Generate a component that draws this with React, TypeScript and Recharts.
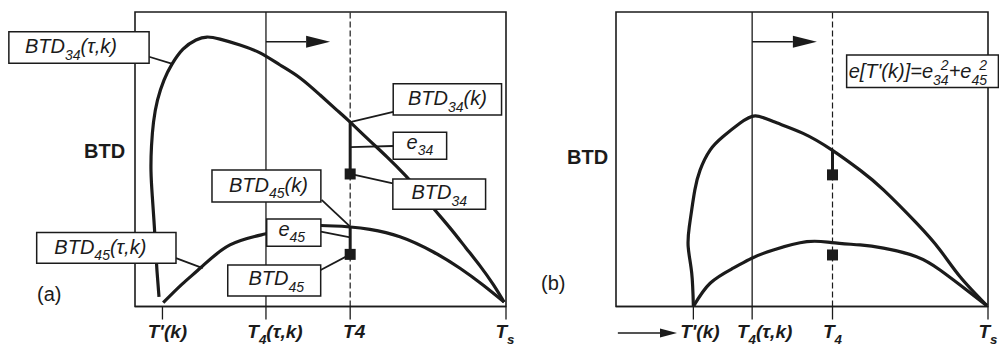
import React from 'react';
import { ComposedChart, Line, Scatter, XAxis, YAxis, ReferenceArea, ReferenceLine } from 'recharts';

const INK = '#1b1b1b';
const FONT = '"Liberation Sans", Arial, Helvetica, sans-serif';

// x = position on the T axis (0 at left frame, 100 at Ts), y = BTD (0..100)

// ---- panel (a) ----
const btd34TauA = [
  { x: 6.47, y: 3.3 }, { x: 5.93, y: 12.05 }, { x: 5.53, y: 20.5 }, { x: 5.12, y: 29.0 },
  { x: 4.66, y: 37.5 }, { x: 4.31, y: 46.0 }, { x: 4.45, y: 54.5 }, { x: 4.99, y: 62.6 },
  { x: 6.06, y: 70.1 }, { x: 7.82, y: 76.9 }, { x: 9.97, y: 82.3 }, { x: 12.94, y: 87.4 },
  { x: 16.44, y: 90.5 }, { x: 19.41, y: 91.5 }, { x: 22.91, y: 90.8 }, { x: 28.3, y: 88.8 },
  { x: 33.7, y: 86.1 }, { x: 39.1, y: 82.0 }, { x: 44.5, y: 77.6 }, { x: 49.9, y: 71.8 },
  { x: 54.4, y: 66.7 }, { x: 58.0, y: 62.6 }, { x: 63.1, y: 56.5 }, { x: 67.9, y: 50.8 },
  { x: 72.8, y: 44.6 }, { x: 76.8, y: 38.9 }, { x: 80.6, y: 33.1 }, { x: 84.9, y: 26.7 },
  { x: 89.2, y: 19.9 }, { x: 93.0, y: 13.8 }, { x: 96.5, y: 7.6 }, { x: 99.5, y: 1.5 },
];
const btd45TauA = [
  { x: 7.6, y: 1.3 }, { x: 12.7, y: 7.6 }, { x: 18.0, y: 13.5 }, { x: 25.6, y: 20.9 },
  { x: 35.0, y: 24.6 }, { x: 42.6, y: 26.8 }, { x: 50.1, y: 27.5 }, { x: 58.0, y: 27.0 },
  { x: 63.3, y: 26.2 }, { x: 71.4, y: 23.7 }, { x: 80.3, y: 18.6 }, { x: 87.6, y: 13.0 },
  { x: 93.8, y: 7.3 }, { x: 99.5, y: 1.5 },
];
const ticksA = [7.4, 35.3, 58, 100];
const tickLabelsA = ["T'(k)", 'T_{4}(τ,k)', 'T4', 'T_{s}'];
const t4TauA = 35.3;
const t4A = 58;
const measuredA = [45.0, 17.7]; // BTD34, BTD45 at T4
const modelA = [62.6, 27.0]; // BTD34(k), BTD45(k)

// ---- panel (b) ----
const btd34TauB = [
  { x: 20.8, y: 0 }, { x: 20.35, y: 11.4 }, { x: 19.4, y: 20.3 }, { x: 19.7, y: 27.1 },
  { x: 20.35, y: 32.8 }, { x: 21.2, y: 39.6 }, { x: 22.6, y: 46.3 }, { x: 25.3, y: 53.1 },
  { x: 28.8, y: 57.7 }, { x: 33.3, y: 62.2 }, { x: 37.4, y: 64.7 }, { x: 42.3, y: 62.8 },
  { x: 50.3, y: 58.8 }, { x: 58.1, y: 53.1 }, { x: 65.6, y: 46.3 }, { x: 71.9, y: 39.6 },
  { x: 80.8, y: 28.3 }, { x: 87.1, y: 19.2 }, { x: 92.5, y: 10.1 }, { x: 99.7, y: 0.3 },
];
const btd45TauB = [
  { x: 20.8, y: 0 }, { x: 25.3, y: 7.9 }, { x: 31.5, y: 13.0 }, { x: 36.5, y: 16.4 },
  { x: 42.3, y: 19.2 }, { x: 51.3, y: 22.0 }, { x: 58.0, y: 21.7 }, { x: 65.6, y: 20.9 },
  { x: 71.9, y: 19.8 }, { x: 80.8, y: 16.9 }, { x: 87.1, y: 12.4 }, { x: 92.5, y: 7.3 },
  { x: 99.7, y: 0.3 },
];
const ticksB = [20.8, 36.6, 58.2, 100];
const tickLabelsB = ["T'(k)", 'T_{4}(τ,k)', 'T_{4}', 'T_{s}'];
const t4TauB = 36.6;
const t4B = 58.2;
const measuredB = [44.7, 17.5];
const modelB = [53.1];

// callouts (data coordinates)
const boxesA = [
  { x1: -34.0, x2: 3.8, y1: 82.6, y2: 93.3, text: 'BTD_{34}(τ,k)', dy: 6, dx: -8 },
  { x1: -26.5, x2: 11.05, y1: 14.7, y2: 25.1, text: 'BTD_{45}(τ,k)', dy: 6, dx: -6 },
  { x1: 69.6, x2: 98.8, y1: 65.0, y2: 75.6, text: 'BTD_{34}(k)', dy: 6, dx: 0 },
  { x1: 69.6, x2: 84.0, y1: 50.0, y2: 59.2, text: 'e_{34}', dy: 3, dx: 0 },
  { x1: 69.5, x2: 94.5, y1: 33.0, y2: 43.3, text: 'BTD_{34}', dy: 5, dx: 0 },
  { x1: 20.75, x2: 50.1, y1: 35.5, y2: 46.35, text: 'BTD_{45}(k)', dy: 6, dx: 2 },
  { x1: 35.5, x2: 50.1, y1: 20.5, y2: 29.7, text: 'e_{45}', dy: 3, dx: -2 },
  { x1: 25.0, x2: 50.05, y1: 3.57, y2: 14.1, text: 'BTD_{45}', dy: 5, dx: 2 },
];
const pointersA = [
  [{ x: 3.8, y: 84.8 }, { x: 10.3, y: 82.3 }],
  [{ x: 11.05, y: 16.4 }, { x: 18.25, y: 13.0 }],
  [{ x: 69.6, y: 66.1 }, { x: 58, y: 62.6 }],
  [{ x: 69.6, y: 54.5 }, { x: 58, y: 54.1 }],
  [{ x: 69.5, y: 41.8 }, { x: 58, y: 45.0 }],
  [{ x: 50.3, y: 36.2 }, { x: 58, y: 27.1 }],
  [{ x: 50.1, y: 25.4 }, { x: 58, y: 23.5 }],
  [{ x: 50.05, y: 12.4 }, { x: 58, y: 17.7 }],
];
const boxesB = [
  { x1: 62.0, x2: 102.8, y1: 74.4, y2: 85.4, text: "e[T'(k)]=e_{34}^{2}+e_{45}^{2}", dy: 7, dx: 0, start: true },
];

function rich(src: string, size: number) {
  const parts = src.split(/(_\{[^}]*\}|\^\{[^}]*\})/).filter(Boolean);
  let shift = 0;
  let prevSub = false;
  return parts.map((p, i) => {
    const isSub = p.startsWith('_{');
    const isSup = p.startsWith('^{');
    let txt = p;
    let fs = size;
    let target = 0;
    if (isSub || isSup) {
      txt = p.slice(2, -1);
      fs = size * 0.7;
      target = isSub ? size * 0.32 : -size * 0.42;
    }
    const dx = isSup && prevSub ? -0.556 * fs : undefined;
    const dy = target - shift;
    shift = target;
    prevSub = isSub;
    return (
      <tspan key={i} dx={dx} dy={dy} fontSize={fs}>
        {txt}
      </tspan>
    );
  });
}

const makeTick = (ticks: number[], labels: string[], nudges: number[]) => (props: any) => {
  const { x, y, payload } = props;
  const i = ticks.indexOf(payload.value);
  if (i < 0) return <g />;
  return (
    <text x={x + nudges[i]} y={y + 16} textAnchor="middle" fontFamily={FONT} fontWeight="bold"
      fontStyle="italic" fontSize={19} fill={INK}>
      {rich(labels[i], 19)}
    </text>
  );
};

const arrowShape = (head: number, half: number) => (p: any) => {
  const { x1, y1, x2, y2 } = p;
  const bx = x2 - Math.sign(x2 - x1) * head;
  return (
    <g>
      <line x1={x1} y1={y1} x2={bx} y2={y2} stroke={INK} strokeWidth={1.4} />
      <polygon points={`${x2},${y2} ${bx},${y2 - half} ${bx},${y2 + half}`} fill={INK} />
    </g>
  );
};

const square = (p: any) => <rect x={p.cx - 5.5} y={p.cy - 5.5} width={11} height={11} fill={INK} />;

function Panel(props: any) {
  const { width, margin, curves, ticks, labels, nudges, t4Tau, t4, measured, model, boxes, pointers, arrows } = props;
  return (
    <ComposedChart width={width} height={348} margin={margin}>
      <XAxis type="number" dataKey="x" domain={[0, 100]} ticks={ticks} interval={0} allowDataOverflow
        height={40} tickSize={13} tickMargin={2}
        axisLine={{ stroke: INK, strokeWidth: 1.6 }} tickLine={{ stroke: INK, strokeWidth: 1.3 }}
        tick={makeTick(ticks, labels, nudges)} />
      <YAxis type="number" dataKey="y" domain={[0, 100]} allowDataOverflow hide />
      <ReferenceArea x1={0} x2={100} y1={0} y2={100} fill="none" stroke={INK} strokeWidth={1.6} ifOverflow="visible" />
      <ReferenceLine x={t4Tau} stroke={INK} strokeWidth={1.3} />
      <ReferenceLine x={t4} stroke={INK} strokeWidth={1.2} strokeDasharray="6 3" />
      {arrows.map((a: any, i: number) => (
        <ReferenceLine key={'ar' + i} segment={a.seg} ifOverflow="visible" shape={arrowShape(a.head, a.half)} />
      ))}
      {curves.map((c: any, i: number) => (
        <Line key={'c' + i} data={c} dataKey="y" type="natural" stroke={INK} strokeWidth={3.2}
          strokeLinejoin="round" dot={false} activeDot={false} isAnimationActive={false} />
      ))}
      {model.map((m: number, i: number) => (
        <ReferenceLine key={'e' + i} segment={[{ x: t4, y: m }, { x: t4, y: measured[i] }]}
          stroke={INK} strokeWidth={3} ifOverflow="visible" />
      ))}
      {pointers.map((s: any, i: number) => (
        <ReferenceLine key={'p' + i} segment={s} stroke={INK} strokeWidth={1.8} ifOverflow="visible" />
      ))}
      {boxes.map((b: any, i: number) => (
        <ReferenceArea key={'b' + i} x1={b.x1} x2={b.x2} y1={b.y1} y2={b.y2} fill="#fff" fillOpacity={1}
          stroke={INK} strokeWidth={1.5} ifOverflow="visible" zIndex={450}
          label={(lp: any) => {
            const { x, y, width: w, height: h } = lp.viewBox;
            return (
              <text x={(b.start ? x + 2 : x + w / 2) + b.dx} y={y + h / 2 + b.dy}
                textAnchor={b.start ? 'start' : 'middle'}
                fontFamily={FONT} fontStyle="italic" fontSize={20} fill={INK}>
                {rich(b.text, 20)}
              </text>
            );
          }} />
      ))}
      <Scatter data={measured.map((y: number) => ({ x: t4, y }))} shape={square} isAnimationActive={false} zIndex={600} />
    </ComposedChart>
  );
}

export default function App() {
  return (
    <div style={{ position: 'absolute', left: 0, top: 0, width: 999, height: 348, background: '#fff', overflow: 'hidden' }}>
      <div style={{ position: 'absolute', left: 0, top: 0 }}>
        <Panel width={540} margin={{ top: 12, right: 34, bottom: 1.5, left: 135 }}
          curves={[btd34TauA, btd45TauA]} ticks={ticksA} labels={tickLabelsA} nudges={[5, 9, 4, -1]}
          t4Tau={t4TauA} t4={t4A} measured={measuredA} model={modelA} boxes={boxesA} pointers={pointersA}
          arrows={[{ seg: [{ x: t4TauA, y: 89.9 }, { x: 52.6, y: 89.9 }], head: 24, half: 6 }]} />
      </div>
      <div style={{ position: 'absolute', left: 540, top: 0 }}>
        <Panel width={459} margin={{ top: 12, right: 11, bottom: 1.5, left: 76 }}
          curves={[btd34TauB, btd45TauB]} ticks={ticksB} labels={tickLabelsB} nudges={[6.5, 12.5, 0, 0]}
          t4Tau={t4TauB} t4={t4B} measured={measuredB} model={modelB} boxes={boxesB} pointers={[]}
          arrows={[
            { seg: [{ x: t4TauB, y: 89.9 }, { x: 54.0, y: 89.9 }], head: 24, half: 6 },
            { seg: [{ x: 0.5, y: -9.0 }, { x: 16.4, y: -9.0 }], head: 17, half: 4.5 },
          ]} />
      </div>
      <svg width={999} height={348} style={{ position: 'absolute', left: 0, top: 0, pointerEvents: 'none' }}>
        <text x={84} y={158.3} fontFamily={FONT} fontWeight="bold" fontSize={20} fill={INK}>BTD</text>
        <text x={567} y={164} fontFamily={FONT} fontWeight="bold" fontSize={20} fill={INK}>BTD</text>
        <text x={37} y={301} fontFamily={FONT} fontSize={20} fill={INK}>(a)</text>
        <text x={541} y={290} fontFamily={FONT} fontSize={20} fill={INK}>(b)</text>
      </svg>
    </div>
  );
}
